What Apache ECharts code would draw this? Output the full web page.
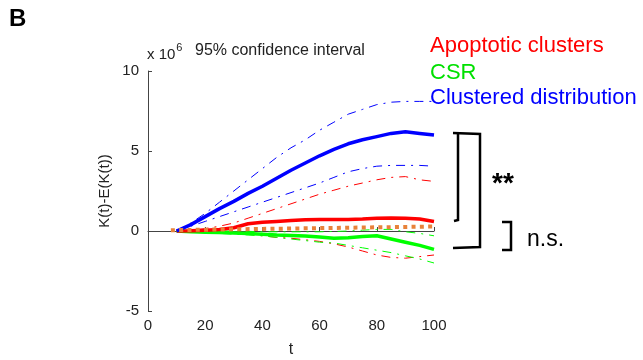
<!DOCTYPE html>
<html>
<head>
<meta charset="utf-8">
<script src="https://cdn.jsdelivr.net/npm/echarts@6/dist/echarts.min.js"></script>
<style>
  html, body { margin: 0; padding: 0; background: #fff; }
  #chart { width: 643px; height: 360px; }
</style>
</head>
<body>
<div id="chart"></div>
<script>
// time points (t) shared by all curves
const tValues = [10, 15, 20, 25, 30, 35, 40, 45, 50, 55, 60, 65, 70, 75, 80, 85, 90, 95, 100]

// values in units of 1e6
const clusteredMean  = [0, 0.4, 0.9, 1.4, 1.85, 2.35, 2.8, 3.3, 3.8, 4.25, 4.7, 5.1, 5.45, 5.7, 5.9, 6.1, 6.2, 6.1, 6.0]
const clusteredUpper = [0, 0.5, 1.1, 1.8, 2.5, 3.2, 3.9, 4.6, 5.2, 5.7, 6.3, 6.8, 7.3, 7.6, 7.9, 8.05, 8.1, 8.1, 8.1]
const clusteredLower = [0, 0.3, 0.6, 0.9, 1.2, 1.5, 1.8, 2.1, 2.4, 2.7, 3.0, 3.35, 3.7, 3.9, 4.05, 4.1, 4.1, 4.1, 4.05]

const apoptoticMean  = [0, 0.02, 0.05, 0.1, 0.2, 0.45, 0.55, 0.6, 0.65, 0.7, 0.72, 0.72, 0.72, 0.75, 0.8, 0.82, 0.8, 0.75, 0.6]
const apoptoticUpper = [0, 0.05, 0.15, 0.3, 0.5, 0.8, 1.1, 1.4, 1.7, 2.0, 2.3, 2.55, 2.8, 3.0, 3.2, 3.35, 3.4, 3.2, 3.1]
const apoptoticLower = [0, -0.02, -0.05, -0.1, -0.15, -0.2, -0.3, -0.4, -0.45, -0.55, -0.65, -0.8, -1.0, -1.25, -1.5, -1.65, -1.7, -1.6, -1.5]

const csrMean  = [0, -0.05, -0.08, -0.1, -0.12, -0.15, -0.2, -0.25, -0.28, -0.32, -0.38, -0.45, -0.42, -0.35, -0.3, -0.5, -0.7, -0.9, -1.15]
const csrUpper = [0, 0, 0, 0, 0, -0.02, -0.05, -0.05, -0.05, -0.05, -0.05, -0.03, 0, 0.05, 0.1, 0.1, -0.05, -0.15, -0.3]
const csrLower = [0, -0.05, -0.1, -0.15, -0.2, -0.25, -0.3, -0.4, -0.5, -0.6, -0.7, -0.75, -0.9, -1.05, -1.2, -1.35, -1.55, -1.75, -2.0]

// dotted reference line drawn across the panel
const refT = [8, 108]
const refValues = [0.05, 0.3]

const xTicks = { min: 0, max: 100, interval: 20 }
const yTicks = { min: -5, max: 10, interval: 5 }

function pairs(xs, ys) {
  return xs.map((x, i) => [x, ys[i]])
}

const dashDot = [9, 6, 2, 6]

function meanLine(name, color, values) {
  return {
    name: name, type: 'line', showSymbol: false, clip: false,
    data: pairs(tValues, values),
    lineStyle: { color: color, width: 3.5 },
    z: 3
  }
}
function ciLine(name, color, values) {
  return {
    name: name, type: 'line', showSymbol: false, clip: false,
    data: pairs(tValues, values),
    lineStyle: { color: color, width: 1, type: dashDot },
    z: 2
  }
}

const chart = echarts.init(document.getElementById('chart'))

const axisColor = '#444'
const labelFont = 'Liberation Sans, Arial, sans-serif'

const option = {
  animation: false,
  grid: { left: 148, right: 209, top: 71, bottom: 49, containLabel: false, outerBoundsMode: 'none' },
  xAxis: {
    type: 'value', min: xTicks.min, max: xTicks.max, interval: xTicks.interval,
    name: 't', nameLocation: 'middle', nameGap: 31,
    nameTextStyle: { color: '#222', fontSize: 16, fontFamily: labelFont },
    axisLine: { lineStyle: { color: axisColor, width: 1 } },
    axisTick: { inside: true, length: 4, lineStyle: { color: axisColor } },
    axisLabel: { color: '#222', fontSize: 15, fontFamily: labelFont, margin: 7 },
    splitLine: { show: false }
  },
  yAxis: {
    type: 'value', min: yTicks.min, max: yTicks.max, interval: yTicks.interval,
    name: 'K(t)-E(K(t))', nameLocation: 'middle', nameGap: 36, nameRotate: 90,
    nameTextStyle: { color: '#222', fontSize: 15, fontFamily: labelFont },
    axisLine: { show: true, lineStyle: { color: axisColor, width: 1 } },
    axisTick: { show: true, inside: true, length: 4, lineStyle: { color: axisColor } },
    axisLabel: { color: '#222', fontSize: 15, fontFamily: labelFont, margin: 9 },
    splitLine: { show: false }
  },
  series: [
    ciLine('Clustered upper', '#0000ff', clusteredUpper),
    ciLine('Clustered lower', '#0000ff', clusteredLower),
    ciLine('Apoptotic upper', '#ff0000', apoptoticUpper),
    ciLine('Apoptotic lower', '#ff0000', apoptoticLower),
    ciLine('CSR upper', '#00ff00', csrUpper),
    ciLine('CSR lower', '#00ff00', csrLower),
    meanLine('CSR', '#00ff00', csrMean),
    meanLine('Apoptotic clusters', '#ff0000', apoptoticMean),
    meanLine('Clustered distribution', '#0000ff', clusteredMean),
    {
      name: 'reference', type: 'line', showSymbol: false, clip: false,
      data: pairs(refT, refValues),
      lineStyle: { color: '#e8823a', width: 4, type: [4, 4.3], cap: 'butt' },
      z: 5
    }
  ],
  graphic: [
    { type: 'text', left: 9, top: 7,
      style: { text: 'B', font: 'bold 24px ' + labelFont, fill: '#000' } },
    { type: 'text', left: 147, top: 42,
      style: {
        text: '{a|x 10}{s|6}',
        rich: {
          a: { font: '15px ' + labelFont, fill: '#222', padding: [8, 0, 0, 0] },
          s: { font: '11px ' + labelFont, fill: '#222', padding: [0, 0, 6, 1] }
        }
      } },
    { type: 'text', left: 195, top: 43,
      style: { text: '95% confidence interval', font: '16px ' + labelFont, fill: '#222' } },
    { type: 'text', left: 430, top: 35,
      style: { text: 'Apoptotic clusters', font: '22px ' + labelFont, fill: '#ff0000' } },
    { type: 'text', left: 430, top: 62,
      style: { text: 'CSR', font: '22px ' + labelFont, fill: '#00e000' } },
    { type: 'text', left: 430, top: 87,
      style: { text: 'Clustered distribution', font: '22px ' + labelFont, fill: '#0000ff' } },
    // big bracket
    { type: 'polyline', shape: { points: [[453, 133], [480, 134], [480, 247], [453, 248]] },
      style: { stroke: '#000', lineWidth: 2.5, fill: null } },
    { type: 'polyline', shape: { points: [[458, 134], [458, 220], [454, 221]] },
      style: { stroke: '#000', lineWidth: 2.5, fill: null } },
    { type: 'text', left: 492, top: 170,
      style: { text: '**', font: 'bold 28px ' + labelFont, fill: '#000' } },
    // small bracket
    { type: 'polyline', shape: { points: [[502, 222], [511, 222], [511, 250], [502, 250]] },
      style: { stroke: '#000', lineWidth: 2.5, fill: null } },
    { type: 'text', left: 527, top: 228,
      style: { text: 'n.s.', font: '23px ' + labelFont, fill: '#000' } }
  ]
}

chart.setOption(option)
</script>
</body>
</html>
